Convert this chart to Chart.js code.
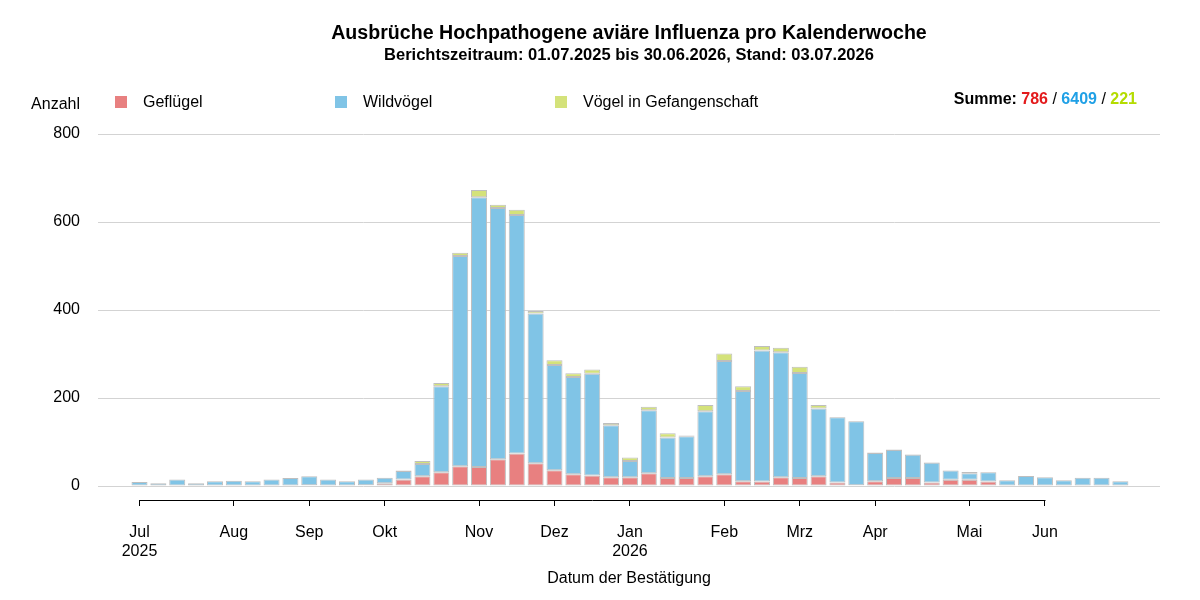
<!DOCTYPE html>
<html lang="de">
<head>
<meta charset="utf-8">
<title>Ausbrüche HPAI pro Kalenderwoche</title>
<script src="https://cdn.jsdelivr.net/npm/chart.js@4.4.1/dist/chart.umd.min.js"></script>
<style>
  html, body { margin: 0; padding: 0; background: #fff; }
  #wrap { position: relative; width: 1200px; height: 600px; font-family: "Liberation Sans", Arial, sans-serif; color: #000; }
  #wrap canvas { position: absolute; left: 0; top: 0; }
  .txt { position: absolute; white-space: nowrap; }
  #title { left: 98px; width: 1062px; top: 20px; line-height: 24px; font-size: 19.6px; font-weight: bold; text-align: center; }
  #subtitle { left: 98px; width: 1062px; top: 44px; line-height: 20px; font-size: 16.5px; font-weight: bold; text-align: center; }
  #yTitle { left: 0; width: 80px; top: 94px; line-height: 20px; font-size: 16px; text-align: right; }
  .legend { top: 92px; line-height: 20px; font-size: 16px; }
  .legend i { position: absolute; left: -28px; top: 4px; width: 12px; height: 12px; }
  #summe { right: 63px; top: 89px; line-height: 20px; font-size: 16px; font-weight: bold; }
  #summe .sep { font-weight: normal; }
</style>
</head>
<body>
<div id="wrap">
  <canvas id="hpaiChart" width="1200" height="600"></canvas>
  <div class="txt" id="title">Ausbrüche Hochpathogene aviäre Influenza pro Kalenderwoche</div>
  <div class="txt" id="subtitle">Berichtszeitraum: 01.07.2025 bis 30.06.2026, Stand: 03.07.2026</div>
  <div class="txt" id="yTitle">Anzahl</div>
  <div class="txt legend" style="left:143px"><i style="background:#E88080"></i>Geflügel</div>
  <div class="txt legend" style="left:363px"><i style="background:#80C4E6"></i>Wildvögel</div>
  <div class="txt legend" style="left:583px"><i style="background:#D4E27A"></i>Vögel in Gefangenschaft</div>
  <div class="txt" id="summe">Summe: <span style="color:#E31A1C">786</span><span class="sep"> / </span><span style="color:#1FA0E6">6409</span><span class="sep"> / </span><span style="color:#B4DC00">221</span></div>
</div>
<script>
// Kalenderwochen KW27/2025 bis KW27/2026
const weeks = [];
for (let kw = 27; kw <= 52; kw++) weeks.push('KW' + kw + '/2025');
for (let kw = 1; kw <= 27; kw++) weeks.push('KW' + kw + '/2026');

// Anzahl Ausbrüche je Woche
const gefluegel = [0, 0, 1, 0, 1, 1, 1, 1, 1, 2, 1, 1, 2, 6, 15, 22, 31, 45, 43, 61, 74, 52, 36, 27, 24, 20, 20, 29, 18, 18,
                   22, 27, 11, 10, 20, 18, 22, 8, 2, 11, 18, 18, 8, 14, 14, 10, 0, 0, 0, 0, 0, 0, 0];
const wildvoegel = [9, 6, 14, 6, 10, 11, 10, 14, 17, 20, 14, 10, 13, 13, 19, 28, 196, 478, 613, 571, 542, 340, 239, 221, 231, 118, 37, 143, 92, 95,
                    148, 257, 205, 298, 284, 239, 154, 148, 145, 64, 64, 53, 45, 21, 15, 21, 13, 23, 20, 13, 19, 19, 11];
const gefangenschaft = [0, 0, 0, 0, 0, 0, 0, 0, 0, 0, 0, 0, 0, 0, 1, 7, 7, 7, 17, 7, 12, 6, 11, 8, 10, 5, 8, 8, 10, 2,
                        14, 17, 11, 10, 10, 14, 8, 1, 1, 1, 1, 1, 1, 1, 3, 1, 0, 0, 0, 0, 0, 0, 0];

// Monatsbeschriftung an der jeweils ersten Woche des Monats
const monthTickWeeks = [0, 5, 9, 13, 18, 22, 26, 31, 35, 39, 44, 48];
const monthTickLabels = [['Jul', '2025'], 'Aug', 'Sep', 'Okt', 'Nov', 'Dez', ['Jan', '2026'], 'Feb', 'Mrz', 'Apr', 'Mai', 'Jun'];
const yTicks = [0, 200, 400, 600, 800];

const toPoints = (arr) => arr.map((v, i) => ({ x: i, y: v }));

// R-style axis line only between first and last month tick
const axisLinePlugin = {
    id: 'axisLine',
    afterDraw(chart) {
        const xs = chart.scales.x;
        const ctx = chart.ctx;
        const x1 = xs.getPixelForValue(monthTickWeeks[0]);
        const x2 = xs.getPixelForValue(monthTickWeeks[monthTickWeeks.length - 1]);
        ctx.save();
        ctx.strokeStyle = '#000';
        ctx.lineWidth = 1;
        ctx.beginPath();
        ctx.moveTo(Math.round(x1) + 0.5, Math.round(xs.top) + 0.5);
        ctx.lineTo(Math.round(x2) + 0.5, Math.round(xs.top) + 0.5);
        ctx.stroke();
        ctx.restore();
    }
};

const barStyle = { borderColor: '#BEBEBE', borderWidth: 1, borderSkipped: false, barPercentage: 0.85, categoryPercentage: 1 };

Chart.defaults.font.family = '"Liberation Sans", Arial, sans-serif';
Chart.defaults.color = '#000';

const ctx = document.getElementById('hpaiChart').getContext('2d');
new Chart(ctx, {
    type: 'bar',
    data: {
        datasets: [
            Object.assign({ label: 'Geflügel', data: toPoints(gefluegel), backgroundColor: '#E88080' }, barStyle),
            Object.assign({ label: 'Wildvögel', data: toPoints(wildvoegel), backgroundColor: '#80C4E6' }, barStyle),
            Object.assign({ label: 'Vögel in Gefangenschaft', data: toPoints(gefangenschaft), backgroundColor: '#D4E27A' }, barStyle)
        ]
    },
    options: {
        responsive: false,
        animation: false,
        layout: { padding: { top: 134, right: 40, bottom: 0, left: 0 } },
        plugins: {
            legend: { display: false },
            title: { display: false },
            tooltip: {
                callbacks: {
                    title: (items) => weeks[items[0].parsed.x]
                }
            }
        },
        scales: {
            x: {
                type: 'linear',
                min: -2.2,
                max: 54.1,
                offset: false,
                stacked: true,
                afterBuildTicks: (scale) => { scale.ticks = monthTickWeeks.map(v => ({ value: v })); },
                afterFit: (scale) => { scale.height = 100; },
                grid: { display: true, offset: false, drawOnChartArea: false, drawTicks: true, tickLength: 6, color: '#000', lineWidth: 1 },
                border: { display: false },
                ticks: {
                    autoSkip: false,
                    maxRotation: 0,
                    padding: 17,
                    font: { size: 16 },
                    callback: (value, index) => monthTickLabels[index]
                },
                title: {
                    display: true,
                    text: 'Datum der Bestätigung',
                    font: { size: 16 },
                    padding: { top: 0, bottom: 12 }
                }
            },
            y: {
                min: -31.8,
                max: 800,
                stacked: true,
                afterBuildTicks: (scale) => { scale.ticks = yTicks.map(v => ({ value: v })); },
                afterFit: (scale) => { scale.width = 98; },
                grid: { color: '#D3D3D3', lineWidth: 1, drawTicks: false },
                border: { display: false },
                ticks: { padding: 18, font: { size: 16 } }
            }
        }
    },
    plugins: [axisLinePlugin]
});
</script>
</body>
</html>
